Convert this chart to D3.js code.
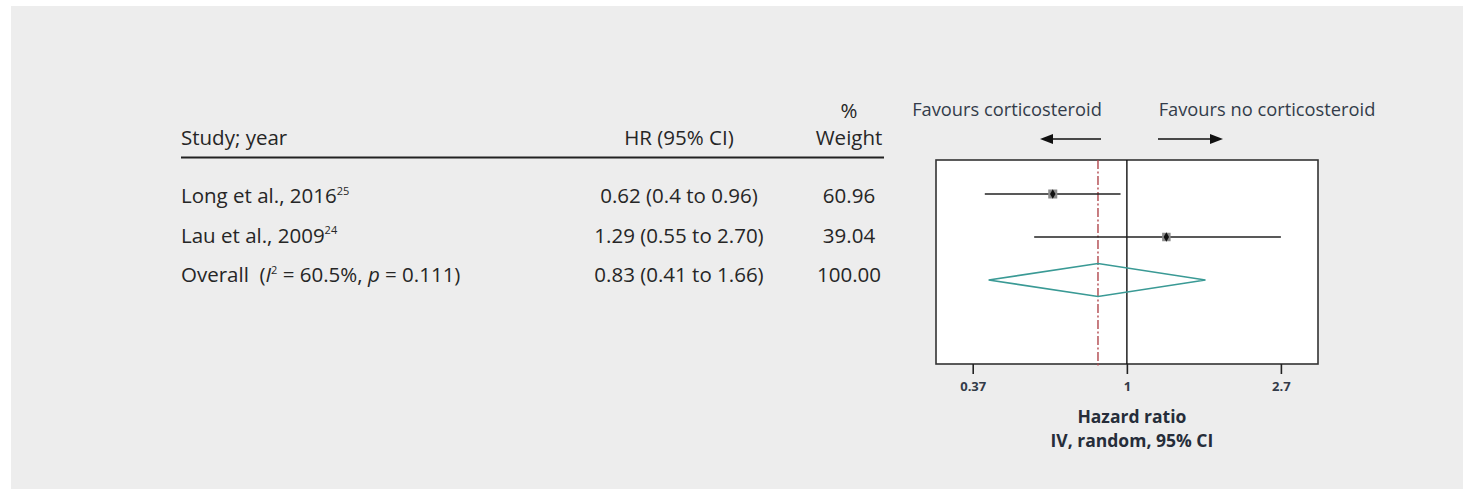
<!DOCTYPE html>
<html>
<head>
<meta charset="utf-8">
<script src="https://cdn.jsdelivr.net/npm/d3@7"></script>
<style>
  html, body { margin: 0; padding: 0; background: #fff; }
  svg { display: block; }
  text { font-family: "Open Sans", "Noto Sans", sans-serif; }
</style>
</head>
<body>
<svg id="chart" width="1463" height="489"></svg>
<script>
// Study-level data
const studies = ["Long et al., 2016", "Lau et al., 2009"];
const refs = ["25", "24"];
const hr = [0.62, 1.29];
const ciLow = [0.4, 0.55];
const ciHigh = [0.96, 2.70];
const weights = [60.96, 39.04];
const hrLabels = ["0.62 (0.4 to 0.96)", "1.29 (0.55 to 2.70)"];

// Pooled estimate
const overallHr = 0.83;
const overallLow = 0.41;
const overallHigh = 1.66;
const overallWeight = 100.00;
const overallI2 = "60.5%";
const overallP = "0.111";
const overallLabel = "0.83 (0.41 to 1.66)";

// Axis
const xTicks = [0.37, 1, 2.7];
const xTickLabels = ["0.37", "1", "2.7"];
const xDomain = [0.292, 3.43];

const svg = d3.select("#chart");
const textColor = "#262626";
const axisColor = "#333b48";

// panel background
svg.append("rect").attr("x", 11).attr("y", 6).attr("width", 1452).attr("height", 483).attr("fill", "#ededed");

// ---------- table ----------
const rowKeys = ["s0", "s1", "overall"];
const tableY = d3.scalePoint().domain(rowKeys).range([196, 275]);
const plotY = d3.scalePoint().domain(rowKeys).range([194, 280]);

const colStudy = 181, colHr = 679, colW = 849;
const fs = 20.5;

const header = svg.append("g").attr("fill", textColor).attr("font-size", fs);
header.append("text").attr("x", colStudy).attr("y", 138).attr("dy", "0.35em").text("Study; year");
header.append("text").attr("x", colHr).attr("y", 138).attr("dy", "0.35em").attr("text-anchor", "middle").text("HR (95% CI)");
header.append("text").attr("x", colW).attr("y", 111).attr("dy", "0.35em").attr("text-anchor", "middle").text("%");
header.append("text").attr("x", colW).attr("y", 138).attr("dy", "0.35em").attr("text-anchor", "middle").text("Weight");
svg.append("line").attr("x1", colStudy).attr("x2", 884).attr("y1", 157.5).attr("y2", 157.5)
  .attr("stroke", "#222").attr("stroke-width", 2);

const rows = svg.append("g").attr("fill", textColor).attr("font-size", fs);
studies.forEach((s, i) => {
  const y = tableY(rowKeys[i]);
  const t = rows.append("text").attr("x", colStudy).attr("y", y).attr("dy", "0.35em");
  t.append("tspan").text(s);
  t.append("tspan").attr("font-size", 11).attr("dy", "-0.75em").text(refs[i]);
  rows.append("text").attr("x", colHr).attr("y", y).attr("dy", "0.35em").attr("text-anchor", "middle").text(hrLabels[i]);
  rows.append("text").attr("x", colW).attr("y", y).attr("dy", "0.35em").attr("text-anchor", "middle").text(weights[i].toFixed(2));
});
{
  const y = tableY("overall");
  const t = rows.append("text").attr("x", colStudy).attr("y", y).attr("dy", "0.35em").attr("xml:space", "preserve");
  t.append("tspan").text("Overall  (");
  t.append("tspan").attr("font-style", "italic").text("I");
  t.append("tspan").attr("font-size", 11).attr("dy", "-0.75em").text("2");
  t.append("tspan").attr("dy", "0.4em").text(" = " + overallI2 + ", ");
  t.append("tspan").attr("font-style", "italic").text("p");
  t.append("tspan").text(" = " + overallP + ")");
  rows.append("text").attr("x", colHr).attr("y", y).attr("dy", "0.35em").attr("text-anchor", "middle").text(overallLabel);
  rows.append("text").attr("x", colW).attr("y", y).attr("dy", "0.35em").attr("text-anchor", "middle").text(overallWeight.toFixed(2));
}

// ---------- forest plot ----------
const boxTop = 160, boxBottom = 364;
const x = d3.scaleLog().domain(xDomain).range([936, 1318]);

svg.append("rect").attr("x", x.range()[0]).attr("y", boxTop)
  .attr("width", x.range()[1] - x.range()[0]).attr("height", boxBottom - boxTop)
  .attr("fill", "#fff").attr("stroke", "#333").attr("stroke-width", 1.6);

// line of no effect
svg.append("line").attr("x1", x(1)).attr("x2", x(1)).attr("y1", boxTop).attr("y2", boxBottom)
  .attr("stroke", "#111").attr("stroke-width", 1.4);

// pooled estimate reference line
svg.append("line").attr("x1", x(overallHr)).attr("x2", x(overallHr)).attr("y1", boxTop).attr("y2", boxBottom + 3)
  .attr("stroke", "#b0464c").attr("stroke-width", 1.4).attr("stroke-dasharray", "9,2.5,2,2.5");

// confidence intervals and point estimates
const marks = svg.append("g");
studies.forEach((s, i) => {
  const y = plotY(rowKeys[i]);
  marks.append("line").attr("x1", x(ciLow[i])).attr("x2", x(ciHigh[i])).attr("y1", y).attr("y2", y)
    .attr("stroke", "#222").attr("stroke-width", 1.6);
  const sz = 7.5 + weights[i] / 40;
  marks.append("rect").attr("x", x(hr[i]) - sz / 2).attr("y", y - sz / 2).attr("width", sz).attr("height", sz)
    .attr("fill", "#8c8c8c");
  marks.append("path").attr("d", d3.symbol(d3.symbolDiamond, 26)())
    .attr("transform", `translate(${x(hr[i])},${y})`).attr("fill", "#111");
});

// pooled diamond
{
  const y = plotY("overall"), h = 16.5;
  const pts = [[x(overallLow), y], [x(overallHr), y - h], [x(overallHigh), y], [x(overallHr), y + h]];
  marks.append("path").attr("d", d3.line()(pts) + "Z")
    .attr("fill", "none").attr("stroke", "#3a9a95").attr("stroke-width", 1.6);
}

// x axis
const axis = d3.axisBottom(x).tickValues(xTicks)
  .tickFormat((d, i) => xTickLabels[i]).tickSize(10).tickPadding(8);
const ax = svg.append("g").attr("transform", `translate(0,${boxBottom})`).call(axis);
ax.select(".domain").remove();
ax.selectAll(".tick line").attr("stroke", "#222").attr("stroke-width", 1.6);
ax.selectAll(".tick text").attr("fill", axisColor).attr("font-size", 13).attr("font-weight", "bold")
  .attr("font-family", "'Open Sans', sans-serif");

const xMid = x(1) + 5;
svg.append("text").attr("x", xMid).attr("y", 417).attr("dy", "0.35em").attr("text-anchor", "middle")
  .attr("font-size", 17.5).attr("font-weight", "bold").attr("fill", "#262d3a").text("Hazard ratio");
svg.append("text").attr("x", xMid).attr("y", 441).attr("dy", "0.35em").attr("text-anchor", "middle")
  .attr("font-size", 17.5).attr("font-weight", "bold").attr("fill", "#262d3a").text("IV, random, 95% CI");

// direction labels and arrows
const favColor = "#333c4a";
svg.append("text").attr("x", 1007).attr("y", 110).attr("dy", "0.35em").attr("text-anchor", "middle")
  .attr("font-size", 18.3).attr("fill", favColor).text("Favours corticosteroid");
svg.append("text").attr("x", 1267).attr("y", 110).attr("dy", "0.35em").attr("text-anchor", "middle")
  .attr("font-size", 18.3).attr("fill", favColor).text("Favours no corticosteroid");

const arrowY = 139;
const arrows = svg.append("g").attr("stroke", "#111").attr("fill", "#111");
arrows.append("line").attr("x1", 1101).attr("x2", 1048).attr("y1", arrowY).attr("y2", arrowY).attr("stroke-width", 1.6);
arrows.append("path").attr("d", `M1040,${arrowY} L1053,${arrowY - 5} L1053,${arrowY + 5} Z`).attr("stroke", "none");
arrows.append("line").attr("x1", 1158).attr("x2", 1212).attr("y1", arrowY).attr("y2", arrowY).attr("stroke-width", 1.6);
arrows.append("path").attr("d", `M1223,${arrowY} L1210,${arrowY - 5} L1210,${arrowY + 5} Z`).attr("stroke", "none");
</script>
</body>
</html>
